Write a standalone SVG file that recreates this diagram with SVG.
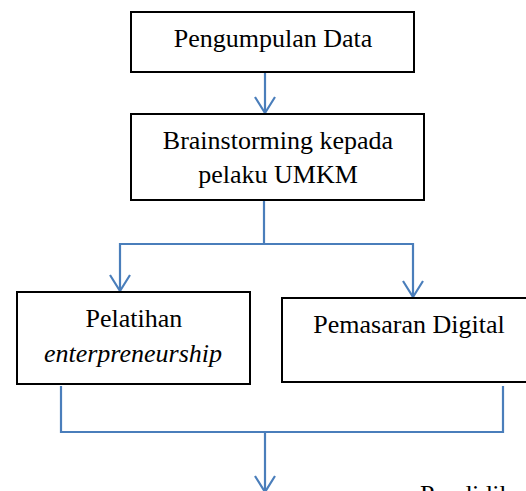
<svg xmlns="http://www.w3.org/2000/svg" width="526" height="491" viewBox="0 0 526 491">
<style>
.box{fill:#fff;stroke:#000;stroke-width:2}
.t{font-family:"Liberation Serif","Times New Roman",serif;font-size:26px;fill:#000;text-anchor:middle}
.i{font-style:italic}
.c{fill:none;stroke:#4A7EBB;stroke-width:2.2}
</style>
<defs>
<marker id="ah" markerUnits="userSpaceOnUse" markerWidth="20" markerHeight="24" viewBox="-18 -12 20 24" refX="0" refY="0" orient="auto" overflow="visible">
<path d="M-16,-10 L0,0 L-16,10" fill="none" stroke="#4A7EBB" stroke-width="2.2"/>
</marker>
</defs>
<rect width="526" height="491" fill="#fff"/>
<g id="connectors">
<path class="c" d="M265,72 V113" marker-end="url(#ah)"/>
<path class="c" d="M264,200 V244"/>
<path class="c" d="M264,244 H120 V291" marker-end="url(#ah)"/>
<path class="c" d="M264,244 H413 V297" marker-end="url(#ah)"/>
<path class="c" d="M61,386 V432 H503 V386"/>
<path class="c" d="M265,432 V492" marker-end="url(#ah)"/>
</g>
<g id="node-pengumpulan">
<rect class="box" x="131" y="12" width="283" height="60"/>
<text class="t" x="273" y="47">Pengumpulan Data</text>
</g>
<g id="node-brainstorming">
<rect class="box" x="131" y="114" width="293" height="86"/>
<text class="t" x="278" y="149">Brainstorming kepada</text>
<text class="t" x="278" y="183">pelaku UMKM</text>
</g>
<g id="node-pelatihan">
<rect class="box" x="17" y="292" width="233" height="92"/>
<text class="t" x="134" y="327">Pelatihan</text>
<text class="t i" x="133" y="362">enterpreneurship</text>
</g>
<g id="node-pemasaran">
<rect class="box" x="282" y="298" width="253" height="84"/>
<text class="t" x="409" y="333">Pemasaran Digital</text>
</g>
<g id="node-pendidikan">
<text class="t" x="420" y="503" style="text-anchor:start">Pendidikan</text>
</g>
</svg>
